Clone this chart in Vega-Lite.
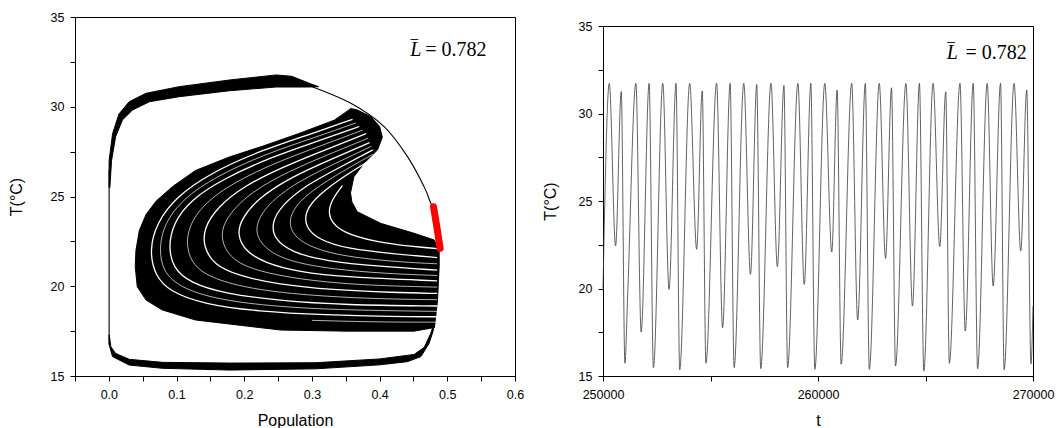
{
  "$schema": "https://vega.github.io/schema/vega-lite/v6.json",
  "background": "white",
  "padding": {"left": 7, "top": 10, "right": 0, "bottom": 0},
  "config": {
    "font": "Liberation Sans",
    "view": {"stroke": "black", "strokeWidth": 1},
    "axis": {"domainColor": "black", "tickColor": "black", "labelColor": "black", "titleColor": "black", "labelFont": "Liberation Sans", "titleFont": "Liberation Sans", "labelFontSize": 12.5, "titleFontSize": 16, "titleFontWeight": "normal", "grid": false, "tickSize": 5, "domainWidth": 1, "tickWidth": 1, "labelOverlap": false, "labelFlush": false},
    "axisX": {"labelPadding": 7, "titlePadding": 12},
    "axisY": {"labelPadding": 6}
  },
  "spacing": 16,
  "datasets": {
    "shapes": [
      {"s": "top", "i": 0, "P": 0.0003, "T": 25.5},
      {"s": "top", "i": 1, "P": 0.0004, "T": 27.0},
      {"s": "top", "i": 2, "P": 0.0055, "T": 28.5},
      {"s": "top", "i": 3, "P": 0.015, "T": 29.6},
      {"s": "top", "i": 4, "P": 0.030, "T": 30.28},
      {"s": "top", "i": 5, "P": 0.055, "T": 30.75},
      {"s": "top", "i": 6, "P": 0.104, "T": 31.12},
      {"s": "top", "i": 7, "P": 0.178, "T": 31.49},
      {"s": "top", "i": 8, "P": 0.247, "T": 31.77},
      {"s": "top", "i": 9, "P": 0.27, "T": 31.7},
      {"s": "top", "i": 10, "P": 0.284, "T": 31.49},
      {"s": "top", "i": 11, "P": 0.30, "T": 31.25},
      {"s": "top", "i": 12, "P": 0.31, "T": 31.12},
      {"s": "top", "i": 13, "P": 0.295, "T": 31.1},
      {"s": "top", "i": 14, "P": 0.247, "T": 31.1},
      {"s": "top", "i": 15, "P": 0.178, "T": 30.89},
      {"s": "top", "i": 16, "P": 0.104, "T": 30.56},
      {"s": "top", "i": 17, "P": 0.060, "T": 30.28},
      {"s": "top", "i": 18, "P": 0.035, "T": 29.82},
      {"s": "top", "i": 19, "P": 0.020, "T": 29.26},
      {"s": "top", "i": 20, "P": 0.010, "T": 28.33},
      {"s": "top", "i": 21, "P": 0.004, "T": 27.0},
      {"s": "top", "i": 22, "P": 0.0015, "T": 25.5},
      {"s": "bot", "i": 0, "P": 0.0005, "T": 17.3},
      {"s": "bot", "i": 1, "P": 0.003, "T": 16.63},
      {"s": "bot", "i": 2, "P": 0.010, "T": 16.26},
      {"s": "bot", "i": 3, "P": 0.030, "T": 15.93},
      {"s": "bot", "i": 4, "P": 0.079, "T": 15.76},
      {"s": "bot", "i": 5, "P": 0.178, "T": 15.72},
      {"s": "bot", "i": 6, "P": 0.306, "T": 15.74},
      {"s": "bot", "i": 7, "P": 0.40, "T": 15.95},
      {"s": "bot", "i": 8, "P": 0.451, "T": 16.2},
      {"s": "bot", "i": 9, "P": 0.466, "T": 16.6},
      {"s": "bot", "i": 10, "P": 0.4756, "T": 17.38},
      {"s": "bot", "i": 11, "P": 0.4805, "T": 17.94},
      {"s": "bot", "i": 12, "P": 0.479, "T": 17.5},
      {"s": "bot", "i": 13, "P": 0.4731, "T": 16.82},
      {"s": "bot", "i": 14, "P": 0.461, "T": 16.08},
      {"s": "bot", "i": 15, "P": 0.441, "T": 15.80},
      {"s": "bot", "i": 16, "P": 0.40, "T": 15.62},
      {"s": "bot", "i": 17, "P": 0.306, "T": 15.4},
      {"s": "bot", "i": 18, "P": 0.178, "T": 15.33},
      {"s": "bot", "i": 19, "P": 0.079, "T": 15.43},
      {"s": "bot", "i": 20, "P": 0.030, "T": 15.61},
      {"s": "bot", "i": 21, "P": 0.0055, "T": 16.08},
      {"s": "bot", "i": 22, "P": 0.0, "T": 16.8},
      {"s": "swirl", "i": 0, "P": 0.039, "T": 21.1},
      {"s": "swirl", "i": 1, "P": 0.040, "T": 22.0},
      {"s": "swirl", "i": 2, "P": 0.045, "T": 23.1},
      {"s": "swirl", "i": 3, "P": 0.055, "T": 24.0},
      {"s": "swirl", "i": 4, "P": 0.070, "T": 24.75},
      {"s": "swirl", "i": 5, "P": 0.094, "T": 25.55},
      {"s": "swirl", "i": 6, "P": 0.128, "T": 26.45},
      {"s": "swirl", "i": 7, "P": 0.178, "T": 27.2},
      {"s": "swirl", "i": 8, "P": 0.227, "T": 27.8},
      {"s": "swirl", "i": 9, "P": 0.28, "T": 28.5},
      {"s": "swirl", "i": 10, "P": 0.333, "T": 29.25},
      {"s": "swirl", "i": 11, "P": 0.350, "T": 29.7},
      {"s": "swirl", "i": 12, "P": 0.3575, "T": 29.9},
      {"s": "swirl", "i": 13, "P": 0.367, "T": 29.82},
      {"s": "swirl", "i": 14, "P": 0.387, "T": 29.45},
      {"s": "swirl", "i": 15, "P": 0.400, "T": 28.9},
      {"s": "swirl", "i": 16, "P": 0.404, "T": 28.3},
      {"s": "swirl", "i": 17, "P": 0.397, "T": 27.6},
      {"s": "swirl", "i": 18, "P": 0.377, "T": 26.85},
      {"s": "swirl", "i": 19, "P": 0.362, "T": 26.1},
      {"s": "swirl", "i": 20, "P": 0.357, "T": 25.2},
      {"s": "swirl", "i": 21, "P": 0.359, "T": 24.7},
      {"s": "swirl", "i": 22, "P": 0.367, "T": 24.15},
      {"s": "swirl", "i": 23, "P": 0.402, "T": 23.5},
      {"s": "swirl", "i": 24, "P": 0.451, "T": 22.95},
      {"s": "swirl", "i": 25, "P": 0.4805, "T": 22.58},
      {"s": "swirl", "i": 26, "P": 0.488, "T": 22.0},
      {"s": "swirl", "i": 27, "P": 0.488, "T": 21.1},
      {"s": "swirl", "i": 28, "P": 0.4855, "T": 19.2},
      {"s": "swirl", "i": 29, "P": 0.481, "T": 17.7},
      {"s": "swirl", "i": 30, "P": 0.451, "T": 17.5},
      {"s": "swirl", "i": 31, "P": 0.352, "T": 17.5},
      {"s": "swirl", "i": 32, "P": 0.254, "T": 17.56},
      {"s": "swirl", "i": 33, "P": 0.202, "T": 17.79},
      {"s": "swirl", "i": 34, "P": 0.128, "T": 18.12},
      {"s": "swirl", "i": 35, "P": 0.079, "T": 18.68},
      {"s": "swirl", "i": 36, "P": 0.055, "T": 19.23},
      {"s": "swirl", "i": 37, "P": 0.042, "T": 19.97}
    ],
    "lines": [
      {"s": "left", "i": 0, "P": 0.0004, "T": 26.5},
      {"s": "left", "i": 1, "P": 0.0004, "T": 17.0},
      {"s": "arc", "i": 0, "P": 0.2935, "T": 31.21},
      {"s": "arc", "i": 1, "P": 0.3575, "T": 30.19},
      {"s": "arc", "i": 2, "P": 0.4066, "T": 28.89},
      {"s": "arc", "i": 3, "P": 0.4412, "T": 27.22},
      {"s": "arc", "i": 4, "P": 0.4657, "T": 25.55},
      {"s": "arc", "i": 5, "P": 0.4756, "T": 24.62},
      {"s": "arc", "i": 6, "P": 0.4796, "T": 24.43}
    ],
    "white": [
      {"c": "a", "i": 0, "P": 0.36, "T": 29.3}, {"c": "a", "i": 1, "P": 0.30, "T": 28.5}, {"c": "a", "i": 2, "P": 0.22, "T": 27.5}, {"c": "a", "i": 3, "P": 0.15, "T": 26.3}, {"c": "a", "i": 4, "P": 0.10, "T": 25.0}, {"c": "a", "i": 5, "P": 0.07, "T": 23.5}, {"c": "a", "i": 6, "P": 0.06, "T": 22.0}, {"c": "a", "i": 7, "P": 0.068, "T": 20.6}, {"c": "a", "i": 8, "P": 0.09, "T": 19.7}, {"c": "a", "i": 9, "P": 0.14, "T": 19.0}, {"c": "a", "i": 10, "P": 0.22, "T": 18.6}, {"c": "a", "i": 11, "P": 0.32, "T": 18.4}, {"c": "a", "i": 12, "P": 0.42, "T": 18.3}, {"c": "a", "i": 13, "P": 0.485, "T": 18.3},
      {"c": "b", "i": 0, "P": 0.37, "T": 28.9}, {"c": "b", "i": 1, "P": 0.31, "T": 28.1}, {"c": "b", "i": 2, "P": 0.24, "T": 27.2}, {"c": "b", "i": 3, "P": 0.17, "T": 26.0}, {"c": "b", "i": 4, "P": 0.12, "T": 24.8}, {"c": "b", "i": 5, "P": 0.095, "T": 23.5}, {"c": "b", "i": 6, "P": 0.088, "T": 22.2}, {"c": "b", "i": 7, "P": 0.095, "T": 21.0}, {"c": "b", "i": 8, "P": 0.12, "T": 20.2}, {"c": "b", "i": 9, "P": 0.17, "T": 19.6}, {"c": "b", "i": 10, "P": 0.25, "T": 19.2}, {"c": "b", "i": 11, "P": 0.35, "T": 18.95}, {"c": "b", "i": 12, "P": 0.485, "T": 18.9},
      {"c": "c", "i": 0, "P": 0.38, "T": 28.5}, {"c": "c", "i": 1, "P": 0.32, "T": 27.6}, {"c": "c", "i": 2, "P": 0.26, "T": 26.7}, {"c": "c", "i": 3, "P": 0.20, "T": 25.6}, {"c": "c", "i": 4, "P": 0.16, "T": 24.4}, {"c": "c", "i": 5, "P": 0.14, "T": 23.2}, {"c": "c", "i": 6, "P": 0.14, "T": 22.2}, {"c": "c", "i": 7, "P": 0.155, "T": 21.2}, {"c": "c", "i": 8, "P": 0.19, "T": 20.6}, {"c": "c", "i": 9, "P": 0.25, "T": 20.1}, {"c": "c", "i": 10, "P": 0.33, "T": 19.8}, {"c": "c", "i": 11, "P": 0.42, "T": 19.65}, {"c": "c", "i": 12, "P": 0.485, "T": 19.6},
      {"c": "d", "i": 0, "P": 0.385, "T": 28.0}, {"c": "d", "i": 1, "P": 0.33, "T": 27.1}, {"c": "d", "i": 2, "P": 0.27, "T": 26.1}, {"c": "d", "i": 3, "P": 0.22, "T": 24.9}, {"c": "d", "i": 4, "P": 0.195, "T": 23.7}, {"c": "d", "i": 5, "P": 0.19, "T": 22.9}, {"c": "d", "i": 6, "P": 0.20, "T": 22.0}, {"c": "d", "i": 7, "P": 0.23, "T": 21.3}, {"c": "d", "i": 8, "P": 0.28, "T": 20.8}, {"c": "d", "i": 9, "P": 0.35, "T": 20.5}, {"c": "d", "i": 10, "P": 0.485, "T": 20.3},
      {"c": "e", "i": 0, "P": 0.39, "T": 27.6}, {"c": "e", "i": 1, "P": 0.34, "T": 26.6}, {"c": "e", "i": 2, "P": 0.29, "T": 25.6}, {"c": "e", "i": 3, "P": 0.255, "T": 24.5}, {"c": "e", "i": 4, "P": 0.24, "T": 23.5}, {"c": "e", "i": 5, "P": 0.245, "T": 22.6}, {"c": "e", "i": 6, "P": 0.27, "T": 21.9}, {"c": "e", "i": 7, "P": 0.32, "T": 21.4}, {"c": "e", "i": 8, "P": 0.40, "T": 21.1}, {"c": "e", "i": 9, "P": 0.485, "T": 20.9},
      {"c": "f", "i": 0, "P": 0.39, "T": 27.1}, {"c": "f", "i": 1, "P": 0.35, "T": 26.2}, {"c": "f", "i": 2, "P": 0.31, "T": 25.1}, {"c": "f", "i": 3, "P": 0.29, "T": 24.2}, {"c": "f", "i": 4, "P": 0.29, "T": 23.3}, {"c": "f", "i": 5, "P": 0.31, "T": 22.6}, {"c": "f", "i": 6, "P": 0.35, "T": 22.1}, {"c": "f", "i": 7, "P": 0.42, "T": 21.8}, {"c": "f", "i": 8, "P": 0.485, "T": 21.6},
      {"c": "g", "i": 0, "P": 0.345, "T": 25.6}, {"c": "g", "i": 1, "P": 0.325, "T": 24.6}, {"c": "g", "i": 2, "P": 0.325, "T": 23.7}, {"c": "g", "i": 3, "P": 0.345, "T": 23.0}, {"c": "g", "i": 4, "P": 0.39, "T": 22.5}, {"c": "g", "i": 5, "P": 0.45, "T": 22.2}, {"c": "g", "i": 6, "P": 0.485, "T": 22.1}
    ],
    "white2": [
      {"c": "a2", "i": 0, "P": 0.365, "T": 29.1}, {"c": "a2", "i": 1, "P": 0.305, "T": 28.3}, {"c": "a2", "i": 2, "P": 0.23, "T": 27.35}, {"c": "a2", "i": 3, "P": 0.16, "T": 26.15}, {"c": "a2", "i": 4, "P": 0.11, "T": 24.9}, {"c": "a2", "i": 5, "P": 0.082, "T": 23.5}, {"c": "a2", "i": 6, "P": 0.074, "T": 22.1}, {"c": "a2", "i": 7, "P": 0.08, "T": 20.8}, {"c": "a2", "i": 8, "P": 0.105, "T": 19.95}, {"c": "a2", "i": 9, "P": 0.155, "T": 19.3}, {"c": "a2", "i": 10, "P": 0.235, "T": 18.9}, {"c": "a2", "i": 11, "P": 0.335, "T": 18.68}, {"c": "a2", "i": 12, "P": 0.485, "T": 18.6},
      {"c": "b2", "i": 0, "P": 0.375, "T": 28.7}, {"c": "b2", "i": 1, "P": 0.315, "T": 27.85}, {"c": "b2", "i": 2, "P": 0.25, "T": 26.95}, {"c": "b2", "i": 3, "P": 0.185, "T": 25.8}, {"c": "b2", "i": 4, "P": 0.14, "T": 24.6}, {"c": "b2", "i": 5, "P": 0.118, "T": 23.35}, {"c": "b2", "i": 6, "P": 0.114, "T": 22.2}, {"c": "b2", "i": 7, "P": 0.125, "T": 21.1}, {"c": "b2", "i": 8, "P": 0.155, "T": 20.4}, {"c": "b2", "i": 9, "P": 0.21, "T": 19.85}, {"c": "b2", "i": 10, "P": 0.29, "T": 19.5}, {"c": "b2", "i": 11, "P": 0.39, "T": 19.3}, {"c": "b2", "i": 12, "P": 0.485, "T": 19.25},
      {"c": "c2", "i": 0, "P": 0.383, "T": 28.25}, {"c": "c2", "i": 1, "P": 0.325, "T": 27.35}, {"c": "c2", "i": 2, "P": 0.265, "T": 26.4}, {"c": "c2", "i": 3, "P": 0.21, "T": 25.25}, {"c": "c2", "i": 4, "P": 0.178, "T": 24.05}, {"c": "c2", "i": 5, "P": 0.165, "T": 23.05}, {"c": "c2", "i": 6, "P": 0.17, "T": 22.1}, {"c": "c2", "i": 7, "P": 0.19, "T": 21.25}, {"c": "c2", "i": 8, "P": 0.235, "T": 20.7}, {"c": "c2", "i": 9, "P": 0.3, "T": 20.3}, {"c": "c2", "i": 10, "P": 0.38, "T": 20.05}, {"c": "c2", "i": 11, "P": 0.485, "T": 19.95},
      {"c": "d2", "i": 0, "P": 0.388, "T": 27.8}, {"c": "d2", "i": 1, "P": 0.335, "T": 26.85}, {"c": "d2", "i": 2, "P": 0.28, "T": 25.85}, {"c": "d2", "i": 3, "P": 0.238, "T": 24.7}, {"c": "d2", "i": 4, "P": 0.218, "T": 23.6}, {"c": "d2", "i": 5, "P": 0.218, "T": 22.75}, {"c": "d2", "i": 6, "P": 0.235, "T": 21.95}, {"c": "d2", "i": 7, "P": 0.27, "T": 21.35}, {"c": "d2", "i": 8, "P": 0.33, "T": 20.95}, {"c": "d2", "i": 9, "P": 0.41, "T": 20.7}, {"c": "d2", "i": 10, "P": 0.485, "T": 20.6},
      {"c": "e2", "i": 0, "P": 0.39, "T": 27.35}, {"c": "e2", "i": 1, "P": 0.345, "T": 26.4}, {"c": "e2", "i": 2, "P": 0.3, "T": 25.35}, {"c": "e2", "i": 3, "P": 0.272, "T": 24.35}, {"c": "e2", "i": 4, "P": 0.265, "T": 23.4}, {"c": "e2", "i": 5, "P": 0.278, "T": 22.6}, {"c": "e2", "i": 6, "P": 0.31, "T": 22.0}, {"c": "e2", "i": 7, "P": 0.36, "T": 21.6}, {"c": "e2", "i": 8, "P": 0.43, "T": 21.35}, {"c": "e2", "i": 9, "P": 0.485, "T": 21.25},
      {"c": "h", "i": 0, "P": 0.30, "T": 18.1}, {"c": "h", "i": 1, "P": 0.40, "T": 18.0}, {"c": "h", "i": 2, "P": 0.485, "T": 18.0}
    ],
    "red": [
      {"i": 0, "P": 0.4796, "T": 24.43},
      {"i": 1, "P": 0.4845, "T": 23.32},
      {"i": 2, "P": 0.4894, "T": 22.11}
    ],
    "series": [
      {"t": 250000, "T": 20.0}, {"t": 250292, "T": 31.72}, {"t": 250585, "T": 22.43}, {"t": 250849, "T": 31.25}, {"t": 251020, "T": 15.73}, {"t": 251141, "T": 19.4},
      {"t": 251529, "T": 31.72}, {"t": 251775, "T": 17.51}, {"t": 252146, "T": 31.72}, {"t": 252345, "T": 15.48}, {"t": 252780, "T": 31.72}, {"t": 253072, "T": 19.95},
      {"t": 253397, "T": 31.72}, {"t": 253568, "T": 15.36}, {"t": 254032, "T": 31.72}, {"t": 254356, "T": 22.24}, {"t": 254616, "T": 31.29}, {"t": 254787, "T": 15.73},
      {"t": 255283, "T": 31.72}, {"t": 255561, "T": 17.76}, {"t": 255913, "T": 31.72}, {"t": 256099, "T": 15.48}, {"t": 256548, "T": 31.72}, {"t": 256859, "T": 20.81},
      {"t": 257151, "T": 31.66}, {"t": 257336, "T": 15.42}, {"t": 257813, "T": 31.72}, {"t": 258110, "T": 21.25}, {"t": 258416, "T": 31.6}, {"t": 258587, "T": 15.48},
      {"t": 259064, "T": 31.72}, {"t": 259361, "T": 20.24}, {"t": 259667, "T": 31.72}, {"t": 259852, "T": 15.38}, {"t": 260316, "T": 31.72}, {"t": 260640, "T": 22.09},
      {"t": 260890, "T": 31.34}, {"t": 261076, "T": 15.67}, {"t": 261567, "T": 31.72}, {"t": 261845, "T": 18.2}, {"t": 262202, "T": 31.72}, {"t": 262387, "T": 15.38},
      {"t": 262850, "T": 31.72}, {"t": 263142, "T": 21.72}, {"t": 263420, "T": 31.47}, {"t": 263606, "T": 15.57}, {"t": 264088, "T": 31.72}, {"t": 264394, "T": 19.0},
      {"t": 264718, "T": 31.72}, {"t": 264922, "T": 15.29}, {"t": 265353, "T": 31.72}, {"t": 265663, "T": 22.4}, {"t": 265941, "T": 31.24}, {"t": 266108, "T": 15.73},
      {"t": 266604, "T": 31.72}, {"t": 266849, "T": 17.57}, {"t": 267220, "T": 31.72}, {"t": 267424, "T": 15.42}, {"t": 267869, "T": 31.72}, {"t": 268147, "T": 20.14},
      {"t": 268490, "T": 31.72}, {"t": 268657, "T": 15.36}, {"t": 269120, "T": 31.72}, {"t": 269430, "T": 22.14}, {"t": 269708, "T": 31.34}, {"t": 269907, "T": 15.7},
      {"t": 270000, "T": 19.0}
    ]
  },
  "hconcat": [
    {
      "width": 440,
      "height": 359,
      "encoding": {
        "x": {"field": "P", "type": "quantitative", "scale": {"domain": [-0.05, 0.6], "nice": false, "zero": false},
          "axis": {"title": "Population", "values": [-0.05, 0, 0.05, 0.1, 0.15, 0.2, 0.25, 0.3, 0.35, 0.4, 0.45, 0.5, 0.55, 0.6],
            "labelExpr": "abs(datum.value * 10 - round(datum.value * 10)) < 0.001 ? format(datum.value, '.1f') : ''"}},
        "y": {"field": "T", "type": "quantitative", "scale": {"domain": [15, 35], "nice": false, "zero": false},
          "axis": {"title": "T(°C)", "titlePadding": 26, "values": [15, 17.5, 20, 22.5, 25, 27.5, 30, 32.5, 35],
            "labelExpr": "datum.value % 5 == 0 ? datum.label : ''"}}
      },
      "layer": [
        {
          "data": {"name": "shapes"},
          "mark": {"type": "line", "fill": "black", "stroke": "black", "strokeWidth": 1, "interpolate": "linear-closed"},
          "encoding": {"detail": {"field": "s"}, "order": {"field": "i", "type": "quantitative"}}
        },
        {
          "data": {"name": "lines"},
          "mark": {"type": "line", "stroke": "black", "strokeWidth": 1.1, "interpolate": "cardinal"},
          "encoding": {"detail": {"field": "s"}, "order": {"field": "i", "type": "quantitative"}}
        },
        {
          "data": {"name": "white"},
          "mark": {"type": "line", "stroke": "white", "strokeWidth": 1.3, "interpolate": "basis"},
          "encoding": {"detail": {"field": "c"}, "order": {"field": "i", "type": "quantitative"}}
        },
        {
          "data": {"name": "white2"},
          "mark": {"type": "line", "stroke": "white", "strokeWidth": 0.7, "interpolate": "basis"},
          "encoding": {"detail": {"field": "c"}, "order": {"field": "i", "type": "quantitative"}}
        },
        {
          "data": {"name": "red"},
          "mark": {"type": "line", "stroke": "#ff0000", "strokeWidth": 7, "strokeCap": "round", "interpolate": "cardinal"},
          "encoding": {"order": {"field": "i", "type": "quantitative"}}
        },
        {
          "data": {"values": [{"P": 0.4453, "T": 32.83, "txt": "L"}]},
          "mark": {"type": "text", "font": "Liberation Serif", "fontSize": 20, "fontStyle": "italic", "align": "left", "baseline": "alphabetic", "color": "black"},
          "encoding": {"text": {"field": "txt"}}
        },
        {
          "data": {"values": [{"P": 0.4463, "T": 32.83, "txt": "‾"}, {"P": 0.4674, "T": 32.83, "txt": "= 0.782"}]},
          "mark": {"type": "text", "font": "Liberation Serif", "fontSize": 20, "align": "left", "baseline": "alphabetic", "color": "black"},
          "encoding": {"text": {"field": "txt"}}
        }
      ]
    },
    {
      "spacing": -2,
      "vconcat": [
        {
          "width": 430,
          "height": 1,
          "view": {"stroke": null},
          "data": {"values": [{"k": 1}]},
          "mark": {"type": "point", "opacity": 0},
          "encoding": {}
        },
        {
          "width": 430,
          "height": 350,
          "encoding": {
            "x": {"field": "t", "type": "quantitative", "scale": {"domain": [250000, 270000], "nice": false, "zero": false},
              "axis": {"title": "t", "format": "d", "values": [250000, 255000, 260000, 265000, 270000],
                "labelExpr": "datum.value % 10000 == 0 ? datum.label : ''"}},
            "y": {"field": "T", "type": "quantitative", "scale": {"domain": [15, 35], "nice": false, "zero": false},
              "axis": {"title": "T(°C)", "titlePadding": 20, "values": [15, 17.5, 20, 22.5, 25, 27.5, 30, 32.5, 35],
                "labelExpr": "datum.value % 5 == 0 ? datum.label : ''"}}
          },
          "layer": [
            {
              "data": {"name": "series"},
              "mark": {"type": "line", "stroke": "#3a3a3a", "strokeWidth": 0.8, "interpolate": "monotone"},
              "encoding": {}
            },
            {
              "data": {"values": [{"t": 265986, "T": 33.13, "txt": "L"}]},
              "mark": {"type": "text", "font": "Liberation Serif", "fontSize": 20, "fontStyle": "italic", "align": "left", "baseline": "alphabetic", "color": "black"},
              "encoding": {"text": {"field": "txt"}}
            },
            {
              "data": {"values": [{"t": 266030, "T": 33.13, "txt": "‾"}, {"t": 266856, "T": 33.13, "txt": "= 0.782"}]},
              "mark": {"type": "text", "font": "Liberation Serif", "fontSize": 20, "align": "left", "baseline": "alphabetic", "color": "black"},
              "encoding": {"text": {"field": "txt"}}
            }
          ]
        }
      ]
    }
  ]
}
